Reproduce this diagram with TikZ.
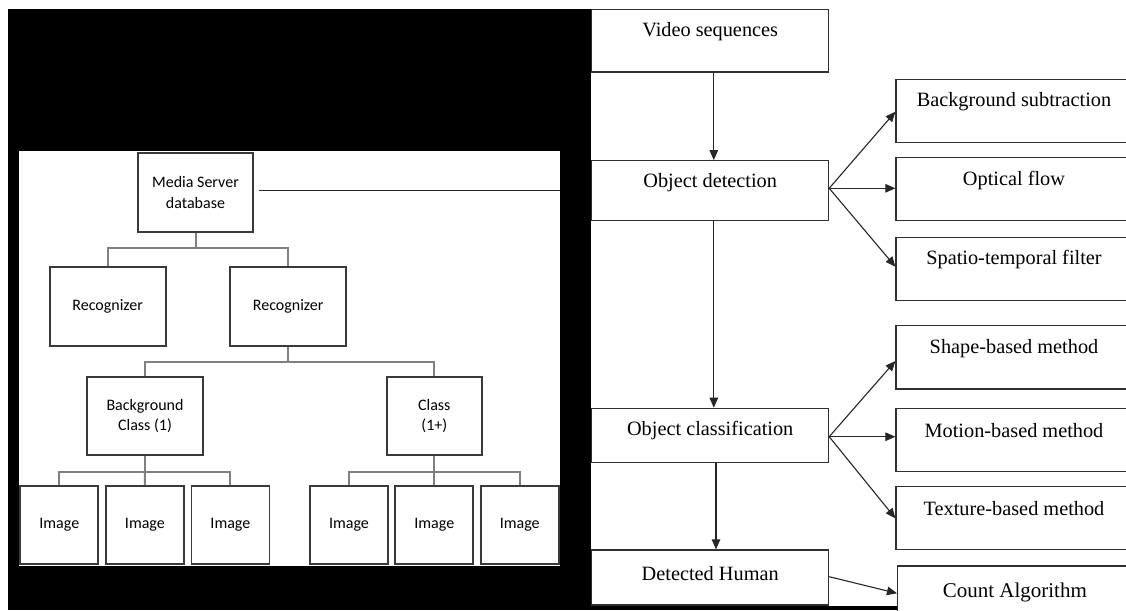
\documentclass[tikz,border=0pt]{standalone}
\usepackage{fontspec}
\setmainfont{Liberation Serif}
\newfontfamily\calib{Carlito}
\usetikzlibrary{arrows.meta}
\definecolor{boxgray}{HTML}{3A3A3A}
\definecolor{treegray}{HTML}{808080}
\definecolor{rgray}{HTML}{303030}
\begin{document}
\begin{tikzpicture}[x=1pt,y=-1pt,
 lbox/.style={draw=boxgray, line width=1.8pt, fill=white, inner sep=0pt, align=center,
   font=\calib\fontsize{16}{20.5}\selectfont},
 tree/.style={draw=treegray, line width=2pt},
 rbox/.style={draw=rgray, line width=1.2pt, fill=white, inner sep=0pt},
 rtext/.style={font=\fontsize{20.3}{24}\selectfont, inner sep=0pt},
 arr/.style={draw=black!85, line width=1.1pt, -{Triangle[length=10pt,width=8.5pt]}},
]
\useasboundingbox (0,0) rectangle (1126,610);
\clip (0,0) rectangle (1126,610);
\fill[white] (0,0) rectangle (1126,610);
% black backdrop and white panel
\fill[black] (8,9) rectangle (591,610);
\fill[black] (591,606) rectangle (897,610);
\fill[white] (19,151) rectangle (559.5,565.7);

% ---------- left tree ----------
\node[lbox, minimum width=115.5, minimum height=78.4] (ms) at (195.5,192.5) {Media Server\\database};
\node[lbox, minimum width=116, minimum height=79] (r1) at (107.7,306.2) {Recognizer};
\node[lbox, minimum width=116.3, minimum height=79] (r2) at (288.2,306.2) {Recognizer};
\node[lbox, minimum width=115.6, minimum height=77.4] (bg) at (145,416) {Background\\Class (1)};
\node[lbox, minimum width=95, minimum height=77.4] (cl) at (434.3,416) {Class\\(1+)};
\node[lbox, minimum width=78, minimum height=78.3] (i1) at (59.3,525.2) {Image};
\node[lbox, minimum width=77.7, minimum height=78.3] (i2) at (144.9,525.2) {Image};
\node[lbox, minimum width=78, minimum height=78.3] (i3) at (230.4,525.2) {Image};
\node[lbox, minimum width=77.3, minimum height=78.3] (i4) at (349,525.2) {Image};
\node[lbox, minimum width=78, minimum height=78.3] (i5) at (434.3,525.2) {Image};
\node[lbox, minimum width=78, minimum height=78.3] (i6) at (519.7,525.2) {Image};

\draw[tree] (ms.south) -- ++(0,15) coordinate (j1);
\draw[tree] (r1.north) |- (j1) -| (r2.north);
\draw[tree] (r2.south) -- ++(0,15.3) coordinate (j2);
\draw[tree] (bg.north) |- (j2) -| (cl.north);
\draw[tree] (bg.south) -- ++(0,16) coordinate (j3);
\draw[tree] (i1.north) |- (j3) -| (i3.north);
\draw[tree] (j3) -- (i2.north);
\draw[tree] (cl.south) -- ++(0,16) coordinate (j4);
\draw[tree] (i4.north) |- (j4) -| (i6.north);
\draw[tree] (j4) -- (i5.north);

\coordinate (msend) at (559.5,190.3);
\draw[black!85, line width=1.3pt] (msend -| ms.east) ++(5.2,0) -- (msend);

% ---------- right flowchart ----------
\fill[white] (591,0) rectangle (1126,606);
\node[rbox, minimum width=236.8, minimum height=62.7,
  label={[rtext,yshift=8.7]center:Video sequences}] (vs) at (710.2,40.7) {};
\node[rbox, minimum width=236.8, minimum height=60,
  label={[rtext,yshift=8]center:Object detection}] (od) at (710.2,190.7) {};
\node[rbox, minimum width=236.8, minimum height=54,
  label={[rtext,yshift=4.6]center:Object classification}] (oc) at (710.2,435.3) {};
\node[rbox, minimum width=236.8, minimum height=55,
  label={[rtext,yshift=4.2]center:Detected Human}] (dh) at (710.2,577.5) {};

\node[rbox, minimum width=236, minimum height=63.4,
  label={[rtext,yshift=9.3]center:Background subtraction}] (bs) at (1014,111) {};
\node[rbox, minimum width=236, minimum height=63,
  label={[rtext,yshift=8.2]center:Optical flow}] (of) at (1014,189.2) {};
\node[rbox, minimum width=236, minimum height=63.4,
  label={[rtext,yshift=9.7]center:Spatio-temporal filter}] (sf) at (1014,269) {};
\node[rbox, minimum width=236, minimum height=63.3,
  label={[rtext,yshift=9]center:Shape-based method}] (sb) at (1014,357.3) {};
\node[rbox, minimum width=236, minimum height=63.4,
  label={[rtext,yshift=9.3]center:Motion-based method}] (mb) at (1014,440) {};
\node[rbox, minimum width=236, minimum height=62.6,
  label={[rtext,yshift=9.7]center:Texture-based method}] (tb) at (1014,518) {};
\node[rbox, minimum width=234.5, minimum height=64,
  label={[font=\fontsize{21}{25}\selectfont,inner sep=0pt,yshift=5.3]center:Count Algorithm}] (ca) at (1014.8,598) {};

\draw[arr] ([xshift=3.6]vs.south) -- ([xshift=3.6]od.north);
\draw[arr] ([xshift=3.6]od.south) -- ([xshift=3.6]oc.north);
\draw[arr] ([xshift=5.8]oc.south) -- ([xshift=5.8]dh.north);

\draw[arr] ([yshift=2.4]od.east) -- ([yshift=-0.7]bs.west);
\draw[arr] ([yshift=2.4]od.east) -- ([yshift=2.4]od.east -| of.west);
\draw[arr] ([yshift=2.4]od.east) -- ([yshift=2.3]sf.west);

\draw[arr] ([yshift=-1.4]oc.east) -- ([yshift=-3.7]sb.west);
\draw[arr] ([yshift=-1.4]oc.east) -- ([yshift=-1.4]oc.east -| mb.west);
\draw[arr] ([yshift=-1.4]oc.east) -- ([yshift=-0.3]tb.west);

\draw[arr] ([yshift=0.8]dh.east) -- ([yshift=4.7]ca.west);
\end{tikzpicture}
\end{document}
